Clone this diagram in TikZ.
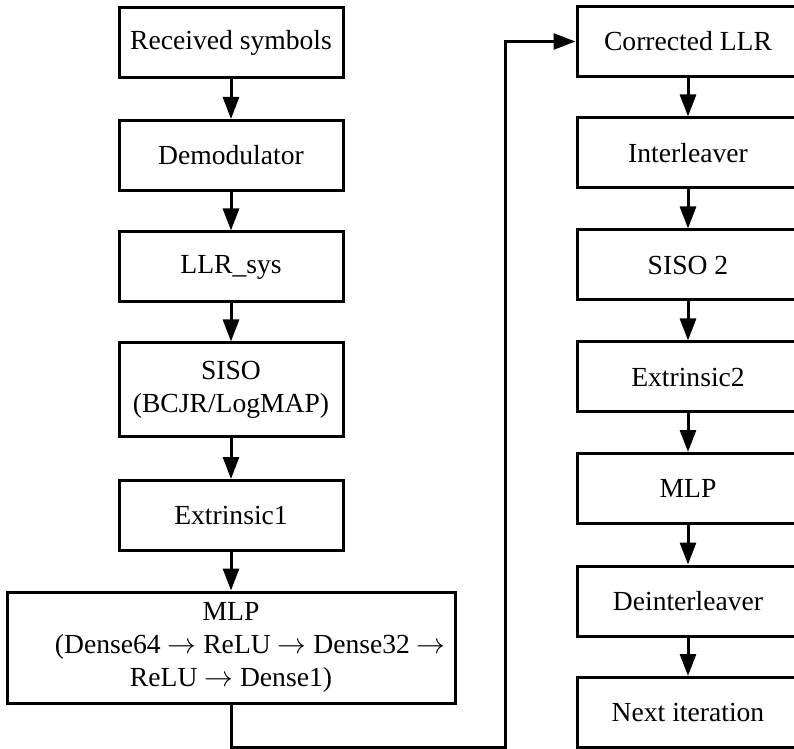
\documentclass[tikz,border=0pt]{standalone}
\usepackage{fontspec}
\setmainfont{Liberation Serif}
\usetikzlibrary{arrows.meta}
\tikzset{
  block/.style={draw, line width=1.5pt, align=center, inner sep=2pt,
    minimum height=35pt, font=\fontsize{13.8}{16.5}\selectfont},
  blockl/.style={block, minimum width=112pt},
  blockr/.style={block, minimum width=111pt},
  flow/.style={line width=1.5pt, -{Triangle[length=11pt, width=8pt]}},
}
\begin{document}
\begin{tikzpicture}[x=0.5pt, y=-0.5pt]
    \useasboundingbox (0,0) rectangle (794,749);
    \clip (0,0) rectangle (794,749);

    % Columna izquierda
    \node[blockl] (rx)     at (231,43)    {Received symbols};
    \node[blockl] (demod)  at (231,155.5) {Demodulator};
    \node[blockl] (llrsys) at (231,267)   {LLR\_sys};
    \node[blockl, minimum height=46.5pt] (siso) at (231,389.5) {SISO\\(BCJR/LogMAP)};
    \node[blockl] (ext1)   at (231,515.5) {Extrinsic1};
    \node[block, minimum width=224pt, minimum height=55.5pt] (mlp1) at (231,647.5)
        {MLP\\\hspace*{1.4em}(Dense64 $\rightarrow$ ReLU $\rightarrow$ Dense32 $\rightarrow$\\ReLU $\rightarrow$ Dense1)};

    % Columna derecha
    \node[blockr] (corr)   at (688,41.5)  {Corrected LLR};
    \node[blockr] (intl)   at (688,153)   {Interleaver};
    \node[blockr] (siso2)  at (688,265)   {SISO 2};
    \node[blockr] (ext2)   at (688,377)   {Extrinsic2};
    \node[blockr] (mlp2)   at (688,488.5) {MLP};
    \node[blockr] (deintl) at (688,601)   {Deinterleaver};
    \node[blockr] (next)   at (688,712.5) {Next iteration};

    % Flechas
    \draw[flow] (rx) -- (demod);
    \draw[flow] (demod) -- (llrsys);
    \draw[flow] (llrsys) -- (siso);
    \draw[flow] (siso) -- (ext1);
    \draw[flow] (ext1) -- (mlp1);
    \draw[flow] (corr) -- (intl);
    \draw[flow] (intl) -- (siso2);
    \draw[flow] (siso2) -- (ext2);
    \draw[flow] (ext2) -- (mlp2);
    \draw[flow] (mlp2) -- (deintl);
    \draw[flow] (deintl) -- (next);

    % Retorno
    \draw[flow] (mlp1.south) |- (505,747) |- (corr.west);
\end{tikzpicture}
\end{document}
